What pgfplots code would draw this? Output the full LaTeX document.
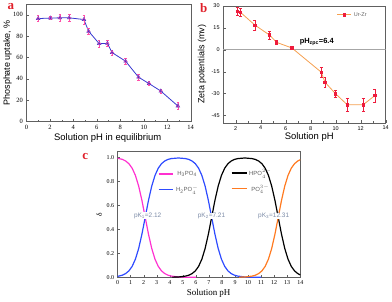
\documentclass[border=0pt]{standalone}
\usepackage{pgfplots}
\pgfplotsset{compat=1.18}
\usepackage{pgfplotstable}
\usepackage{fontspec}
\setmainfont{Liberation Serif}
\setsansfont{Liberation Sans}

\definecolor{pa}{HTML}{3838D0}
\definecolor{pk}{HTML}{FF4FA8}
\definecolor{ora}{HTML}{F5A050}
\definecolor{redm}{HTML}{EE1C3C}
\definecolor{cmag}{HTML}{FF30D0}
\definecolor{cblue}{HTML}{2E4BFF}
\definecolor{corg}{HTML}{FF7A20}
\definecolor{pkt}{HTML}{7D8CA8}
\definecolor{frm}{HTML}{606060}
\definecolor{lbl}{HTML}{E0202A}

\pgfplotstableread{
x y ey
1 96.5 3
2.05 97 1.5
2.85 97.2 3
3.65 97.2 3.5
4.9 95.6 4
5.3 84.6 2.5
6.2 73 3
6.9 73.2 3
7.3 64.6 2.5
8.45 56.5 3
9.55 41.5 3
10.45 35.5 2
11.45 28.5 2
12.9 14.5 3.5
}\tabA

\pgfplotstableread{
x y ey
2.13 26.1 2.8
2.4 25.5 2.8
3.55 16.8 3.4
4.72 10 2.8
5.28 5 1.4
6.5 1.2 1
8.85 -15.4 3.4
9.15 -22.3 3.6
10 -30.2 2.7
10.93 -37.7 4.7
12.2 -37.7 4.3
13.14 -31.4 4.3
}\tabB

\begin{document}
\begin{tikzpicture}
\path (0pt,0pt) rectangle (392pt,301pt);

% ---------------- panel a
\begin{axis}[at={(25pt,180pt)}, anchor=south west, scale only axis,
  width=165pt, height=117.7pt,
  xmin=0, xmax=14, ymin=0, ymax=110,
  xtick={0,2,...,14}, ytick={0,20,...,100},
  minor x tick num=1,
  tick align=inside, xtick pos=bottom, ytick pos=left,
  axis line style={frm}, tick style={frm},
  major tick length=2.5pt, minor tick length=1.5pt,
  /pgf/number format/assume math mode=true,
  ticklabel style={font=\fontsize{6.5}{7}\selectfont},
  xlabel={Solution pH in equilibrium},
  ylabel={Phosphate uptake, \%},
  xlabel style={font=\sffamily\fontsize{9.5}{10}\selectfont, at={(axis description cs:0.495,-0.144)}, anchor=center},
  ylabel style={font=\sffamily\fontsize{9}{10}\selectfont, at={(axis description cs:-0.115,0.5)}, anchor=center},
]
\addplot[pa, line width=0.8pt, mark=triangle*, mark size=1.8pt] table[x=x,y=y] {\tabA};
\addplot[only marks, pk, mark=o, mark size=1.5pt,
  error bars/.cd, y dir=both, y explicit,
  error bar style={pk, line width=0.6pt},
  error mark options={rotate=90, mark size=1.3pt, pk, line width=0.6pt}]
  table[x=x, y=y, y error=ey] {\tabA};
\end{axis}
\node[text=lbl, font=\bfseries\fontsize{13}{13}\selectfont] at (9.5pt,295pt) {a};

% ---------------- panel b
\begin{axis}[at={(222.5pt,178.7pt)}, anchor=south west, scale only axis,
  width=163.2pt, height=117.3pt,
  xmin=1, xmax=14, ymin=-50, ymax=30,
  xtick={2,4,...,14}, ytick={-45,-30,...,30},
  minor x tick num=1,
  tick align=inside, xtick pos=bottom, ytick pos=left,
  axis line style={frm}, tick style={frm},
  major tick length=2.5pt, minor tick length=1.5pt,
  /pgf/number format/assume math mode=true,
  ticklabel style={font=\sffamily\fontsize{5.5}{6}\selectfont},
  xlabel={Solution pH},
  ylabel={Zeta potentials (mv)},
  xlabel style={font=\sffamily\fontsize{9.5}{10}\selectfont, at={(axis description cs:0.53,-0.125)}, anchor=center},
  ylabel style={font=\sffamily\fontsize{9}{10}\selectfont, at={(axis description cs:-0.129,0.5)}, anchor=center},
  legend style={at={(rel axis cs:0.70,0.923)}, anchor=west, draw=none, fill=none,
    font=\sffamily\fontsize{5.5}{6}\selectfont, text=frm, inner xsep=0pt},
  legend image code/.code={\draw[#1, mark repeat=2, mark phase=2] plot coordinates {(0pt,0pt) (7pt,0pt) (14pt,0pt)};},
]
\addplot[gray!70, line width=0.5pt, forget plot] coordinates {(1,0) (14,0)};
\addplot[ora, line width=0.8pt, mark=square*, mark size=1.2pt, mark options={redm, solid},
  error bars/.cd, y dir=both, y explicit,
  error bar style={redm, line width=0.6pt},
  error mark options={rotate=90, mark size=1.5pt, redm, line width=0.6pt}]
  table[x=x, y=y, y error=ey] {\tabB};
\addlegendentry{Ur-Zr}
\node[anchor=west, font=\sffamily\bfseries\fontsize{7.5}{8}\selectfont] at (axis cs:6.85,5) {pH\textsubscript{zpc}=6.4};
\end{axis}
\node[text=lbl, font=\bfseries\fontsize{13}{13}\selectfont] at (203pt,294pt) {b};

% ---------------- panel c
\begin{axis}[at={(116.5pt,23.5pt)}, anchor=south west, scale only axis,
  width=183.5pt, height=126.5pt,
  xmin=0, xmax=14, ymin=0, ymax=1.05,
  xtick={0,1,...,14}, ytick={0,0.2,...,1.0},
  tick align=inside, xtick pos=bottom, ytick pos=left,
  axis line style={frm}, tick style={frm},
  major tick length=2pt,
  /pgf/number format/assume math mode=true,
  yticklabel style={/pgf/number format/.cd, fixed, fixed zerofill, precision=1},
  ticklabel style={font=\fontsize{6}{6.5}\selectfont},
  xlabel={Solution pH},
  ylabel={δ},
  xlabel style={font=\fontsize{9}{10}\selectfont, at={(axis description cs:0.4986,-0.13)}, anchor=center},
  ylabel style={font=\fontsize{7.5}{8}\selectfont, at={(axis description cs:-0.1,0.494)}, anchor=center},
  legend style={at={(rel axis cs:0.22,0.86)}, anchor=north west, draw=none, fill=none,
    font=\sffamily\fontsize{6}{6.5}\selectfont, text=frm, inner xsep=0pt, inner ysep=0pt, row sep=5pt},
  legend image code/.code={\draw[#1] (0pt,0pt) -- (15pt,0pt);},
]
\addplot[cmag, line width=1.2pt] coordinates {
(0,0.9925) (0.37,0.9826) (0.62,0.9693) (0.87,0.9468) (1.12,0.9091) (1.37,0.8490)
(1.62,0.7597) (1.87,0.6401) (2.12,0.5) (2.37,0.3599) (2.62,0.2403) (2.87,0.1510)
(3.12,0.0909) (3.37,0.0532) (3.62,0.0307) (3.87,0.0174) (4.12,0.0099) (4.62,0.0032)
(5.12,0.001) (6,0)};
\addlegendentry{H\textsubscript{3}PO\textsubscript{4}}
\addplot[cblue, line width=1.2pt] coordinates {
(0,0.0075) (0.37,0.0174) (0.62,0.0307) (0.87,0.0532) (1.12,0.0909) (1.37,0.1510)
(1.62,0.2403) (1.87,0.3599) (2.12,0.5) (2.37,0.6401) (2.62,0.7597) (2.87,0.8490)
(3.12,0.9091) (3.37,0.9468) (3.62,0.9693) (3.87,0.9826) (4.12,0.9893) (4.665,0.9943)
(5.21,0.9893) (5.46,0.9821) (5.71,0.9690) (5.96,0.9468) (6.21,0.9091) (6.46,0.8490)
(6.71,0.7597) (6.96,0.6401) (7.21,0.5) (7.46,0.3599) (7.71,0.2403) (7.96,0.1510)
(8.21,0.0909) (8.46,0.0532) (8.71,0.0307) (8.96,0.0174) (9.21,0.0099) (9.71,0.0031)
(10.21,0.001) (11,0)};
\addlegendentry{H\textsubscript{2}PO$_4^{-}$}
\node[fill=white, inner xsep=0.5pt, inner ysep=0.3pt, text=pkt, font=\sffamily\fontsize{6.5}{7}\selectfont] at (axis cs:2.31,0.515) {pK\textsubscript{1}=2.12};
\end{axis}

\begin{axis}[at={(116.5pt,23.5pt)}, anchor=south west, scale only axis,
  width=183.5pt, height=126.5pt,
  xmin=0, xmax=14, ymin=0, ymax=1.05, hide axis,
  legend style={at={(rel axis cs:0.62,0.875)}, anchor=north west, draw=none, fill=none,
    font=\sffamily\fontsize{6}{6.5}\selectfont, text=frm, inner xsep=0pt, inner ysep=0pt, row sep=4pt},
  legend image code/.code={\draw[#1] (0pt,0pt) -- (15pt,0pt);},
]
\addplot[black, line width=1.2pt] coordinates {
(4.21,0.001) (4.71,0.0031) (5.21,0.0099) (5.46,0.0174) (5.71,0.0307) (5.96,0.0532)
(6.21,0.0909) (6.46,0.1510) (6.71,0.2403) (6.96,0.3599) (7.21,0.5) (7.46,0.6401)
(7.71,0.7597) (7.96,0.8490) (8.21,0.9091) (8.46,0.9468) (8.71,0.9693) (8.96,0.9826)
(9.21,0.9893) (9.76,0.9944) (10.31,0.9891) (10.56,0.9822) (10.81,0.9690) (11.06,0.9468)
(11.31,0.9091) (11.56,0.8490) (11.81,0.7597) (12.06,0.6401) (12.31,0.5) (12.56,0.3599)
(12.81,0.2403) (13.06,0.1510) (13.31,0.0909) (13.56,0.0532) (13.81,0.0307) (14,0.0200)};
\addlegendentry{HPO$_4^{2-}$}
\addplot[corg, line width=1.2pt] coordinates {
(9.31,0.001) (9.81,0.0031) (10.31,0.0099) (10.56,0.0174) (10.81,0.0307) (11.06,0.0532)
(11.31,0.0909) (11.56,0.1510) (11.81,0.2403) (12.06,0.3599) (12.31,0.5) (12.56,0.6401)
(12.81,0.7597) (13.06,0.8490) (13.31,0.9091) (13.56,0.9468) (13.81,0.9693) (14,0.9800)};
\addlegendentry{PO$_4^{3-}$}
\node[fill=white, inner xsep=0.5pt, inner ysep=0.3pt, text=pkt, font=\sffamily\fontsize{6.5}{7}\selectfont] at (axis cs:7.2,0.51) {pK\textsubscript{2}=7.21};
\node[fill=white, inner xsep=0.5pt, inner ysep=0.3pt, text=pkt, font=\sffamily\fontsize{6.5}{7}\selectfont] at (axis cs:11.96,0.51) {pK\textsubscript{3}=12.31};
\end{axis}
\node[text=lbl, font=\bfseries\fontsize{13}{13}\selectfont] at (84pt,144.3pt) {c};
\end{tikzpicture}
\end{document}
